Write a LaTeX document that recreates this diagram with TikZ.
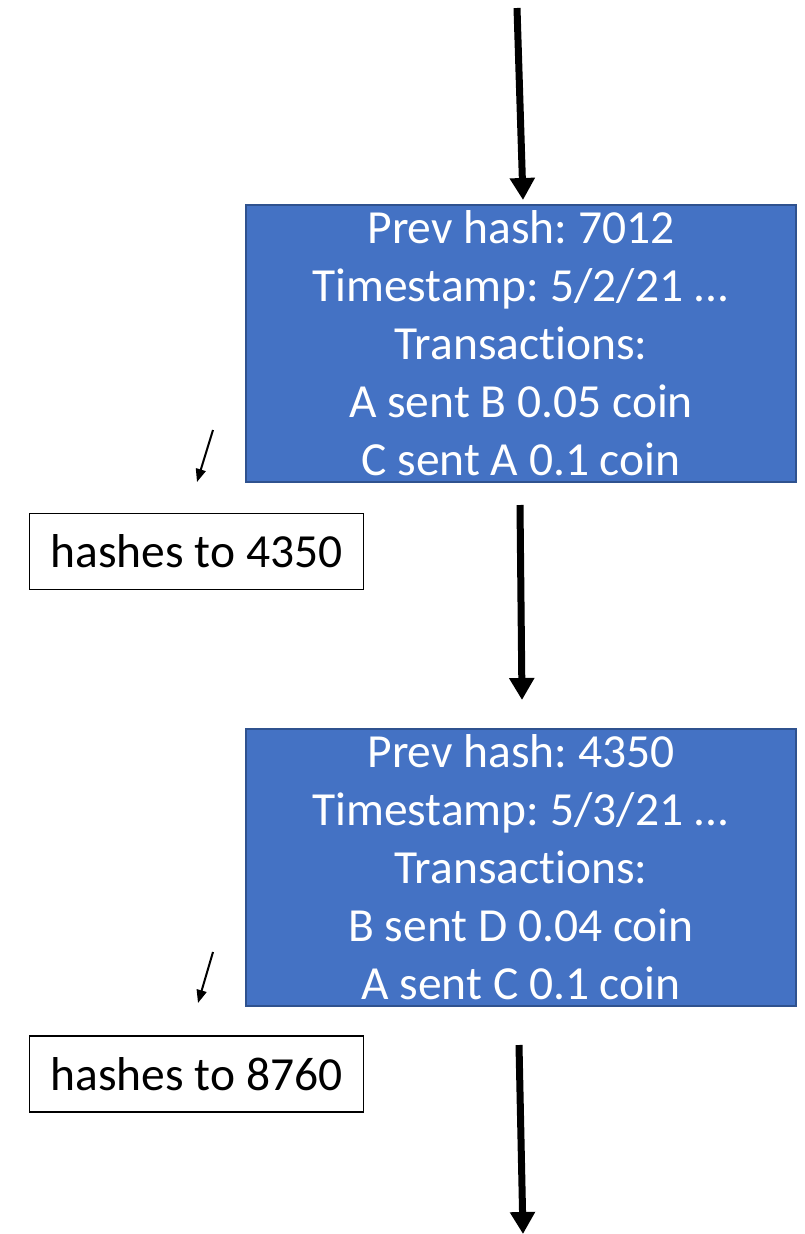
\documentclass[tikz,border=0pt]{standalone}
\usepackage{fontspec}
\setmainfont{Carlito}[Ligatures=NoCommon]
\usetikzlibrary{arrows.meta}
\definecolor{blockblue}{HTML}{4472C4}
\definecolor{blockedge}{HTML}{2F528F}
\frenchspacing
\tikzset{
  block/.style={draw=blockedge, line width=2.5pt, fill=blockblue, text=white,
    minimum width=550pt, minimum height=277pt, align=center, inner sep=0pt,
    font=\fontsize{47.5}{58}\selectfont},
  hashbox/.style={draw=black, line width=1.5pt, fill=white, minimum width=334pt,
    minimum height=76pt, inner sep=0pt, font=\fontsize{47.5}{56}\selectfont},
  bigarrow/.style={line width=7pt, -{Triangle[width=24pt,length=22pt]}},
  smallarrow/.style={line width=2pt, -{Triangle[width=10pt,length=13pt]}}
}
\begin{document}
\begin{tikzpicture}[x=1pt,y=-1pt]
\useasboundingbox (0,0) rectangle (805,1234);
\node[block] (b1) at (521,343.5) {Prev hash: 7012\\Timestamp: 5/2/21 ...\\Transactions:\\A sent B 0.05 coin\\C sent A 0.1 coin};
\node[block] (b2) at (521,867.5) {Prev hash: 4350\\Timestamp: 5/3/21 ...\\Transactions:\\B sent D 0.04 coin\\A sent C 0.1 coin};
\node[hashbox] (h1) at (196.5,551.5) {hashes to 4350};
\node[hashbox] (h2) at (196.5,1074) {hashes to 8760};
\coordinate (t0) at (517,8);
\coordinate (t1) at (523,200);
\coordinate (m0) at (520,505);
\coordinate (m1) at (522,700);
\coordinate (e0) at (519,1045);
\coordinate (e1) at (523,1234);
\coordinate (s1a) at (213,430);
\coordinate (s1b) at (197,482);
\coordinate (s2a) at (213,952);
\coordinate (s2b) at (198,1003);
\draw[bigarrow] (t0) -- (t1);
\draw[bigarrow] (m0) -- (m1);
\draw[bigarrow] (e0) -- (e1);
\draw[smallarrow] (s1a) -- (s1b);
\draw[smallarrow] (s2a) -- (s2b);
\end{tikzpicture}
\end{document}
